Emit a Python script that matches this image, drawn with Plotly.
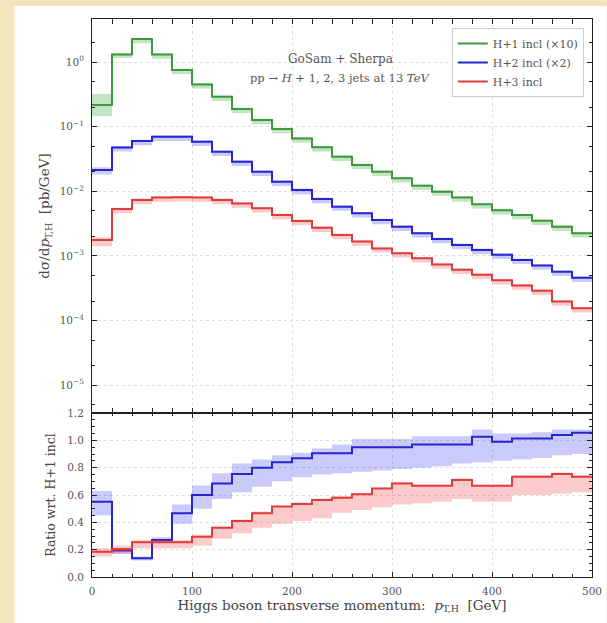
import plotly.graph_objects as go

# Higgs pT bins (GeV)
edges = list(range(0, 520, 20))

# dsigma/dpT [pb/GeV]; H+1 scaled by 10, H+2 scaled by 2
h1_x10 = [0.216, 1.31, 2.27, 1.31, 0.752, 0.452, 0.291, 0.188, 0.127, 0.092,
          0.066, 0.048, 0.0344, 0.0255, 0.0201, 0.0159, 0.0122, 0.0099, 0.0080,
          0.0063, 0.0051, 0.0043, 0.0035, 0.00284, 0.00224]
h2_x2 = [0.0214, 0.0479, 0.060, 0.070, 0.070, 0.0586, 0.041, 0.0288, 0.0201,
         0.0141, 0.0105, 0.0076, 0.0058, 0.00457, 0.0036, 0.00284, 0.00224,
         0.00183, 0.00148, 0.00124, 0.00104, 0.00087, 0.00071, 0.00057, 0.00046]
h3 = [0.00177, 0.00533, 0.00735, 0.0080, 0.0081, 0.0080, 0.00735, 0.0065,
      0.00546, 0.0043, 0.00348, 0.00274, 0.00211, 0.00167, 0.00131, 0.00110,
      0.00092, 0.00074, 0.00061, 0.00051, 0.00042, 0.00035, 0.00029, 0.000197,
      0.000155]

# scale-variation envelopes (relative to central value)
h1_up = [1.50, 1.06] + [1.05] * 23
h1_dn = [0.67, 0.88] + [0.86] * 23
h2_up = [1.10] + [1.05] * 24
h2_dn = [0.85] + [0.86] * 24
h3_up = [1.10] + [1.05] * 24
h3_dn = [0.80] + [0.86] * 24

# ratio panel
r2 = [0.551, 0.193, 0.137, 0.271, 0.466, 0.60, 0.685, 0.754, 0.80, 0.839,
      0.868, 0.905, 0.905, 0.949, 0.949, 0.949, 0.97, 0.97, 0.97, 1.026,
      0.99, 1.014, 1.014, 1.039, 1.056]
r2_lo = [0.45, 0.17, 0.12, 0.25, 0.39, 0.50, 0.57, 0.62, 0.66, 0.70,
         0.73, 0.75, 0.76, 0.77, 0.78, 0.79, 0.80, 0.81, 0.83, 0.84,
         0.85, 0.86, 0.87, 0.89, 0.90]
r2_hi = [0.63, 0.21, 0.15, 0.29, 0.53, 0.67, 0.76, 0.83, 0.86, 0.89,
         0.91, 0.94, 0.97, 1.01, 1.01, 1.01, 1.03, 1.03, 1.03, 1.08,
         1.05, 1.05, 1.06, 1.08, 1.08]
r3 = [0.185, 0.205, 0.254, 0.254, 0.254, 0.295, 0.361, 0.41, 0.466, 0.515,
      0.534, 0.563, 0.58, 0.605, 0.648, 0.685, 0.668, 0.668, 0.71, 0.668,
      0.668, 0.734, 0.734, 0.754, 0.734]
r3_lo = [0.15, 0.17, 0.21, 0.21, 0.21, 0.23, 0.28, 0.32, 0.36, 0.39,
         0.41, 0.43, 0.47, 0.49, 0.51, 0.53, 0.54, 0.55, 0.57, 0.55,
         0.55, 0.60, 0.60, 0.61, 0.62]
r3_hi = [0.21, 0.23, 0.27, 0.27, 0.27, 0.31, 0.37, 0.42, 0.48, 0.52,
         0.545, 0.575, 0.59, 0.615, 0.655, 0.695, 0.675, 0.675, 0.72, 0.675,
         0.675, 0.745, 0.745, 0.765, 0.745]

labels = ["H+1 incl (×10)", "H+2 incl (×2)", "H+3 incl"]
colors = ["#3c9a3c", "#2626d0", "#e03c3c"]
fills = ["rgba(70,170,70,0.32)", "rgba(70,70,240,0.28)", "rgba(240,70,70,0.28)"]

SERIF = "DejaVu Serif"
W, H = 607, 623
ML, MR, MT, MB = 92, 5, 19, 46
split = 164 / 558


def stepped(vals):
    return edges, list(vals) + [vals[-1]]


fig = go.Figure()


def add_hist(vals, lo, hi, color, fill, name, yaxis, legend):
    xs, ylo = stepped(lo)
    _, yhi = stepped(hi)
    fig.add_trace(go.Scatter(x=xs, y=ylo, mode="lines", line=dict(width=0, shape="hv"),
                             showlegend=False, hoverinfo="skip", xaxis="x", yaxis=yaxis))
    fig.add_trace(go.Scatter(x=xs, y=yhi, mode="lines", line=dict(width=0, shape="hv"),
                             fill="tonexty", fillcolor=fill, showlegend=False,
                             hoverinfo="skip", xaxis="x", yaxis=yaxis))
    _, yc = stepped(vals)
    fig.add_trace(go.Scatter(x=xs, y=yc, mode="lines", name=name,
                             line=dict(color=color, width=2, shape="hv"),
                             showlegend=legend, xaxis="x", yaxis=yaxis))


for vals, up, dn, c, f, n in zip([h1_x10, h2_x2, h3], [h1_up, h2_up, h3_up],
                                  [h1_dn, h2_dn, h3_dn], colors, fills, labels):
    lo = [v * d for v, d in zip(vals, dn)]
    hi = [v * u for v, u in zip(vals, up)]
    add_hist(vals, lo, hi, c, f, n, "y2", True)

add_hist(r2, r2_lo, r2_hi, colors[1], fills[1], labels[1], "y", False)
add_hist(r3, r3_lo, r3_hi, colors[2], fills[2], labels[2], "y", False)

tickfont = dict(family=SERIF, size=10.5, color="#555555")
titlefont = dict(family=SERIF, size=13.5, color="#444444")
common = dict(showline=True, linecolor="#222222", linewidth=1, mirror="allticks",
              ticks="inside", ticklen=5, tickcolor="#222222", tickfont=tickfont,
              showgrid=True, gridcolor="#dddddd", griddash="dot", gridwidth=1,
              zeroline=False)

dec = [0, -1, -2, -3, -4, -5]
fig.update_layout(
    width=W, height=H,
    margin=dict(l=ML, r=MR, t=MT, b=MB),
    paper_bgcolor="#f4e5bd",
    plot_bgcolor="white",
    xaxis=dict(range=[0, 500], domain=[0, 1], anchor="y", tickvals=[0, 100, 200, 300, 400, 500],
               ticklabelstandoff=4, ticklabeloverflow="allow",
               minor=dict(ticks="inside", ticklen=3, dtick=20, tickcolor="#222222"),
               title=dict(text="Higgs boson transverse momentum:  <i>p</i><sub>T,H</sub>  [GeV]",
                          font=titlefont, standoff=4),
               **common),
    xaxis2=dict(range=[0, 500], domain=[0, 1], anchor="y2", matches="x",
                tickvals=[0, 100, 200, 300, 400, 500], showticklabels=False,
                minor=dict(ticks="inside", ticklen=3, dtick=20, tickcolor="#222222"),
                **common),
    yaxis=dict(range=[0, 1.2], domain=[0, split], anchor="x", dtick=0.2, tickformat=".1f",
               ticklabelstandoff=5,
               minor=dict(ticks="inside", ticklen=3, dtick=0.05, tickcolor="#222222"),
               title=dict(text="Ratio wrt. H+1 incl", font=dict(family=SERIF, size=12.5, color="#444444"),
                          standoff=8),
               **common),
    yaxis2=dict(type="log", range=[-5.43, 0.667], domain=[split, 1], anchor="x2",
                tickvals=[10 ** d for d in dec],
                ticktext=[f"10<sup>{d}</sup>".replace("-", "\u2212") for d in dec],
                ticklabelstandoff=5,
                minor=dict(ticks="inside", ticklen=3, tickcolor="#222222", showgrid=False),
                title=dict(text="dσ/d<i>p</i><sub>T,H</sub>  [pb/GeV]",
                           font=titlefont, standoff=6),
                **common),
    legend=dict(x=(459 - ML) / (W - ML - MR), y=0.984, xanchor="left", yanchor="top",
                traceorder="normal",
                bgcolor="white", bordercolor="#cccccc", borderwidth=1,
                font=dict(family=SERIF, size=11, color="#555555"),
                itemwidth=30, tracegroupgap=0),
    showlegend=True,
)

# white figure sheet on the beige page
pw = W - ML - MR
ph = H - MT - MB
fig.add_shape(type="rect", xref="paper", yref="paper", layer="below",
              x0=(13 - ML) / pw, x1=(W + 10 - ML) / pw,
              y0=-(H - ph - MT + 10) / ph, y1=1 + (MT - 6) / ph,
              line=dict(width=0), fillcolor="white")

fig.add_annotation(x=(345 - ML) / pw, y=(H - MB - 50) / ph, xref="paper", yref="paper",
                   text="GoSam + Sherpa", showarrow=False,
                   font=dict(family=SERIF, size=12, color="#555555"))
fig.add_annotation(x=(345 - ML) / pw, y=(H - MB - 69) / ph, xref="paper", yref="paper",
                   text="pp → <i>H</i> + 1, 2, 3 jets at 13 <i>TeV</i>", showarrow=False,
                   font=dict(family=SERIF, size=11.5, color="#555555"))

fig.write_html("out.html")
